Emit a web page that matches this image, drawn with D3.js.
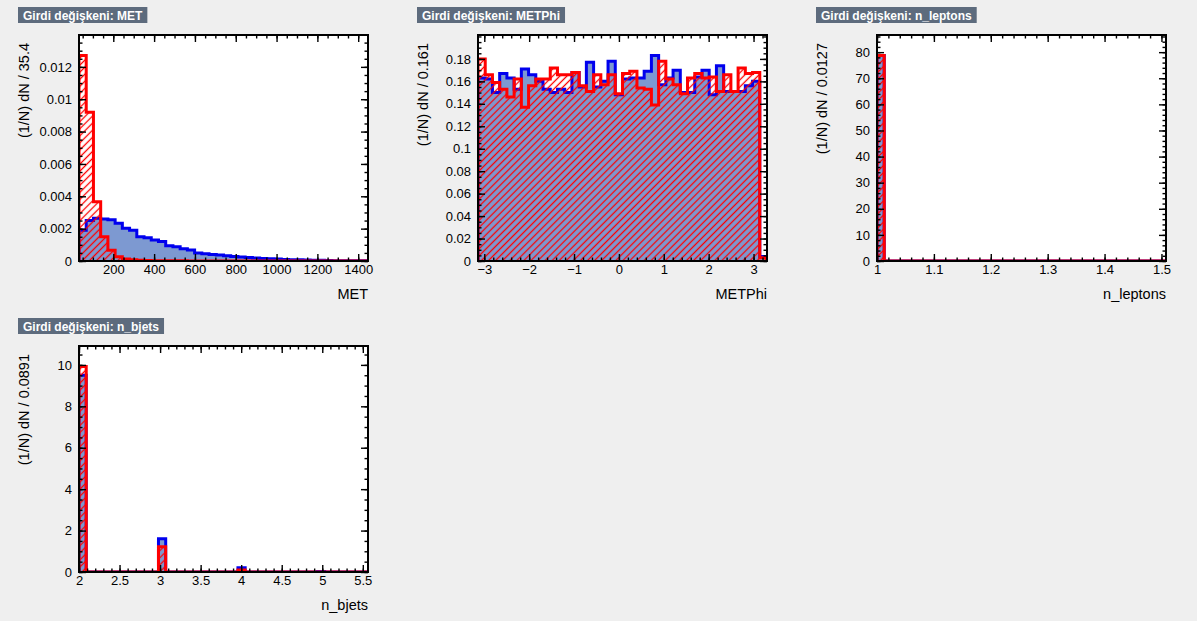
<!DOCTYPE html>
<meta charset="utf-8">
<style>
body { margin: 0; background: #efefef; }
svg { display: block; font-family: "Liberation Sans", Arial, sans-serif; }
.frame { fill: none; stroke: #000; stroke-width: 2px; }
.plotbg { fill: #fff; }
.axis path.domain { display: none; }
.axis line { stroke: #000; stroke-width: 1.4px; }
.axis text { font-size: 13px; fill: #000; font-family: "Liberation Sans", Arial, sans-serif; }
.title-box { fill: #5d6b7d; }
.title-text { fill: #fff; font-weight: bold; font-size: 12px; }
.axis-title { font-size: 14.5px; fill: #000; }
.sig-fill { fill: #7d99d1; stroke: none; }
.sig-line { fill: none; stroke: #0000ee; stroke-width: 3px; }
.bkg-fill { fill: url(#hatch); stroke: none; }
.bkg-line { fill: none; stroke: #ff0000; stroke-width: 3px; }
</style>
<svg width="1197" height="621"></svg>
<script src="https://cdn.jsdelivr.net/npm/d3@7"></script>
<script>

// ---- data (normalised histograms, 40 bins each) ----

var metRange = [32, 1448];
var metSignal = [0.0019, 0.0025, 0.00265, 0.0026, 0.00255, 0.00234, 0.00203, 0.0019, 0.0015, 0.00144,
                 0.0013, 0.0012, 0.00095, 0.00088, 0.00075, 0.00068, 0.0005, 0.00045, 0.0004, 0.00037,
                 0.00032, 0.00028, 0.00025, 0.00022, 0.00019, 0.00016, 0.00014, 0.00012, 0.0001, 0.00008,
                 0.00007, 0.00006, 0.00005, 0.00004, 0.00003, 0.00002, 0.00002, 0.00001, 0.00001, 0.00001];
var metBackground = [0.0127, 0.0092, 0.00366, 0.0015, 0.00066, 0.00026, 0.00012, 0.00007, 0.00005, 0.00003,
                     0.00002, 0.00002, 0.00001, 0.00001, 0.00001, 0, 0, 0, 0, 0,
                     0, 0, 0, 0, 0, 0, 0, 0, 0, 0,
                     0, 0, 0, 0, 0, 0, 0, 0, 0, 0];

var metPhiRange = [-3.14, 3.30];
var metPhiSignal = [0.163, 0.162, 0.150, 0.167, 0.163, 0.153, 0.171, 0.166, 0.160, 0.153,
                    0.150, 0.153, 0.150, 0.168, 0.155, 0.177, 0.155, 0.160, 0.178, 0.148,
                    0.162, 0.163, 0.163, 0.169, 0.183, 0.157, 0.163, 0.170, 0.150, 0.150,
                    0.164, 0.170, 0.148, 0.174, 0.151, 0.151, 0.151, 0.156, 0.160, 0.004];
var metPhiBackground = [0.180, 0.166, 0.159, 0.153, 0.146, 0.162, 0.137, 0.156, 0.162, 0.162,
                        0.172, 0.166, 0.166, 0.168, 0.156, 0.151, 0.166, 0.157, 0.166, 0.149,
                        0.167, 0.169, 0.154, 0.153, 0.139, 0.178, 0.162, 0.157, 0.149, 0.163,
                        0.167, 0.163, 0.164, 0.151, 0.166, 0.151, 0.172, 0.167, 0.168, 0.003];

var nLeptonsRange = [1, 1.508];
var nLeptonsSignal = [78.7, 0, 0, 0, 0, 0, 0, 0, 0, 0,  0, 0, 0, 0, 0, 0, 0, 0, 0, 0,
                      0, 0, 0, 0, 0, 0, 0, 0, 0, 0,  0, 0, 0, 0, 0, 0, 0, 0, 0, 0];
var nLeptonsBackground = [78.7, 0, 0, 0, 0, 0, 0, 0, 0, 0,  0, 0, 0, 0, 0, 0, 0, 0, 0, 0,
                          0, 0, 0, 0, 0, 0, 0, 0, 0, 0,  0, 0, 0, 0, 0, 0, 0, 0, 0, 0];

var nBjetsRange = [2, 5.564];
var nBjetsSignal = [9.5, 0, 0, 0, 0, 0, 0, 0, 0, 0,  0, 1.6, 0, 0, 0, 0, 0, 0, 0, 0,
                    0, 0, 0.2, 0, 0, 0, 0, 0, 0, 0,  0, 0, 0, 0.02, 0, 0, 0, 0, 0, 0];
var nBjetsBackground = [9.92, 0, 0, 0, 0, 0, 0, 0, 0, 0,  0, 1.22, 0, 0, 0, 0, 0, 0, 0, 0,
                        0, 0, 0.1, 0, 0, 0, 0, 0, 0, 0,  0, 0, 0, 0.005, 0, 0, 0, 0, 0, 0];

// tick values
var metXTicks = [200, 400, 600, 800, 1000, 1200, 1400];
var metYTicks = [0, 0.002, 0.004, 0.006, 0.008, 0.01, 0.012];
var metPhiXTicks = [-3, -2, -1, 0, 1, 2, 3];
var metPhiYTicks = [0, 0.02, 0.04, 0.06, 0.08, 0.1, 0.12, 0.14, 0.16, 0.18];
var nLeptonsXTicks = [1, 1.1, 1.2, 1.3, 1.4, 1.5];
var nLeptonsYTicks = [0, 10, 20, 30, 40, 50, 60, 70, 80];
var nBjetsXTicks = [2, 2.5, 3, 3.5, 4, 4.5, 5, 5.5];
var nBjetsYTicks = [0, 2, 4, 6, 8, 10];

// ---- layout ----

var svg = d3.select("svg"),
    frame = {left: 79, top: 35, width: 289, height: 226},
    majorLen = 7, minorLen = 3.5,
    fmt = d3.format("~g");

// red hatch (ROOT style 3554-ish)
svg.append("defs").append("pattern")
    .attr("id", "hatch")
    .attr("patternUnits", "userSpaceOnUse")
    .attr("width", 5).attr("height", 5)
    .attr("patternTransform", "rotate(45)")
  .append("line")
    .attr("x1", 2.5).attr("y1", -1).attr("x2", 2.5).attr("y2", 6)
    .attr("stroke", "#ff0000").attr("stroke-width", 1.3);

var panels = [
  {name: "MET", ox: 0, oy: 0, range: metRange, sig: metSignal, bkg: metBackground,
   xTicks: metXTicks, yTicks: metYTicks, xMinor: 50, yMinor: 0.0005, binLabel: "35.4"},
  {name: "METPhi", ox: 399, oy: 0, range: metPhiRange, sig: metPhiSignal, bkg: metPhiBackground,
   xTicks: metPhiXTicks, yTicks: metPhiYTicks, xMinor: 0.2, yMinor: 0.005, binLabel: "0.161"},
  {name: "n_leptons", ox: 798, oy: 0, range: nLeptonsRange, sig: nLeptonsSignal, bkg: nLeptonsBackground,
   xTicks: nLeptonsXTicks, yTicks: nLeptonsYTicks, xMinor: 0.02, yMinor: 2, binLabel: "0.0127"},
  {name: "n_bjets", ox: 0, oy: 311, range: nBjetsRange, sig: nBjetsSignal, bkg: nBjetsBackground,
   xTicks: nBjetsXTicks, yTicks: nBjetsYTicks, xMinor: 0.1, yMinor: 0.5, binLabel: "0.0891"}
];

function minorTicks(domain, step) {
  var out = [], start = Math.ceil(domain[0] / step - 1e-9);
  for (var k = start; k * step <= domain[1] + 1e-9; k++) out.push(+(k * step).toFixed(6));
  return out;
}

function stepPoints(values, x0, w) {
  var pts = [[x0, 0]];
  values.forEach(function(v, i) {
    pts.push([x0 + i * w, v]);
    pts.push([x0 + (i + 1) * w, v]);
  });
  pts.push([x0 + values.length * w, 0]);
  return pts;
}

panels.forEach(function(p, idx) {
  var g = svg.append("g").attr("transform", "translate(" + p.ox + "," + p.oy + ")");

  var x = d3.scaleLinear().domain(p.range).range([frame.left, frame.left + frame.width]);
  var ymax = 1.1 * Math.max(d3.max(p.sig), d3.max(p.bkg));
  var y = d3.scaleLinear().domain([0, ymax]).range([frame.top + frame.height, frame.top]);
  var binW = (p.range[1] - p.range[0]) / p.sig.length;

  // title box
  var tb = g.append("g").attr("transform", "translate(18,7)");
  var rect = tb.append("rect").attr("class", "title-box").attr("height", 16);
  var tt = tb.append("text").attr("class", "title-text").attr("x", 5).attr("y", 12.5)
      .text("Girdi değişkeni: " + p.name);
  rect.attr("width", tt.node().getComputedTextLength() + 10);

  g.append("rect").attr("class", "plotbg")
      .attr("x", frame.left).attr("y", frame.top)
      .attr("width", frame.width).attr("height", frame.height);

  var clipId = "clip" + idx;
  g.append("clipPath").attr("id", clipId).append("rect")
      .attr("x", frame.left).attr("y", frame.top)
      .attr("width", frame.width).attr("height", frame.height);

  var line = d3.line().x(function(d) { return x(d[0]); }).y(function(d) { return y(d[1]); });
  var hist = g.append("g").attr("clip-path", "url(#" + clipId + ")");

  var sp = stepPoints(p.sig, p.range[0], binW),
      bp = stepPoints(p.bkg, p.range[0], binW);
  hist.append("path").attr("class", "sig-fill").attr("d", line(sp) + "Z");
  hist.append("path").attr("class", "sig-line").attr("d", line(sp));
  hist.append("path").attr("class", "bkg-fill").attr("d", line(bp) + "Z");
  hist.append("path").attr("class", "bkg-line").attr("d", line(bp));

  var bottom = frame.top + frame.height, right = frame.left + frame.width;
  var xMin = minorTicks(p.range, p.xMinor), yMin = minorTicks([0, ymax], p.yMinor);

  // bottom axis (labels + inward ticks)
  g.append("g").attr("class", "axis").attr("transform", "translate(0," + bottom + ")")
      .call(d3.axisBottom(x).tickValues(p.xTicks).tickSize(-majorLen).tickPadding(4).tickFormat(fmt));
  g.append("g").attr("class", "axis").attr("transform", "translate(0," + bottom + ")")
      .call(d3.axisBottom(x).tickValues(xMin).tickSize(-minorLen).tickFormat(""));
  // top
  g.append("g").attr("class", "axis").attr("transform", "translate(0," + frame.top + ")")
      .call(d3.axisTop(x).tickValues(p.xTicks).tickSize(-majorLen).tickFormat(""));
  g.append("g").attr("class", "axis").attr("transform", "translate(0," + frame.top + ")")
      .call(d3.axisTop(x).tickValues(xMin).tickSize(-minorLen).tickFormat(""));
  // left
  g.append("g").attr("class", "axis").attr("transform", "translate(" + frame.left + ",0)")
      .call(d3.axisLeft(y).tickValues(p.yTicks).tickSize(-majorLen).tickPadding(7).tickFormat(fmt));
  g.append("g").attr("class", "axis").attr("transform", "translate(" + frame.left + ",0)")
      .call(d3.axisLeft(y).tickValues(yMin).tickSize(-minorLen).tickFormat(""));
  // right
  g.append("g").attr("class", "axis").attr("transform", "translate(" + right + ",0)")
      .call(d3.axisRight(y).tickValues(p.yTicks).tickSize(-majorLen).tickFormat(""));
  g.append("g").attr("class", "axis").attr("transform", "translate(" + right + ",0)")
      .call(d3.axisRight(y).tickValues(yMin).tickSize(-minorLen).tickFormat(""));

  g.append("rect").attr("class", "frame")
      .attr("x", frame.left).attr("y", frame.top)
      .attr("width", frame.width).attr("height", frame.height);

  // axis titles
  g.append("text").attr("class", "axis-title")
      .attr("x", right).attr("y", 299).attr("text-anchor", "end")
      .text(p.name);
  g.append("text").attr("class", "axis-title")
      .attr("transform", "translate(29," + (frame.top + 8) + ") rotate(-90)")
      .attr("text-anchor", "end")
      .text("(1/N) dN / " + p.binLabel);
});

</script>
